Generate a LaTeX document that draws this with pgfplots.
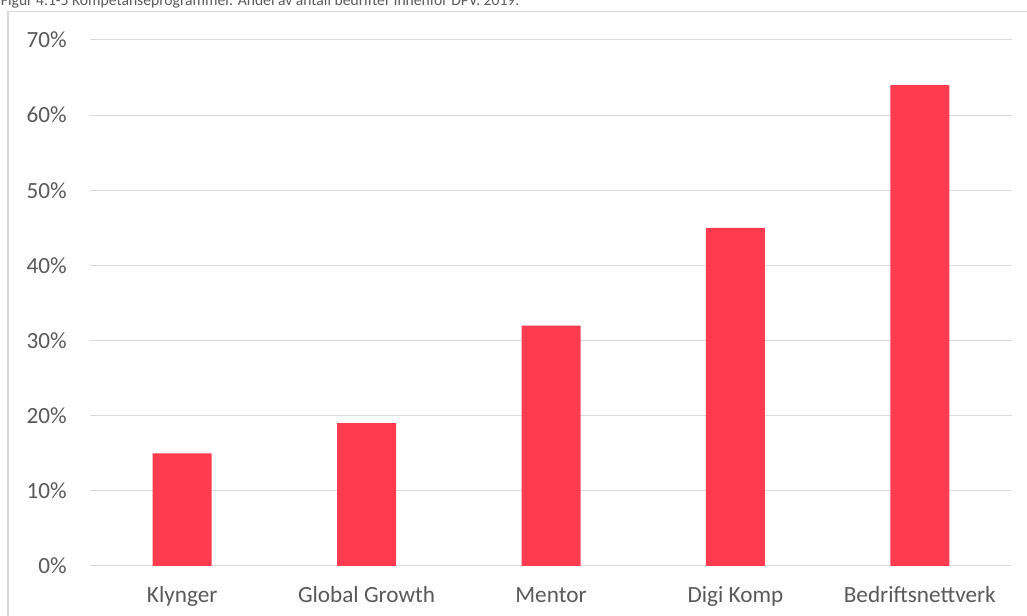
\documentclass[border=0pt]{standalone}
\usepackage{fontspec}
\setmainfont{Carlito}
\usepackage{pgfplots}
\pgfplotsset{compat=1.18}
\definecolor{barred}{RGB}{255,59,80}
\definecolor{gridgrey}{RGB}{217,217,217}
\definecolor{txtgrey}{RGB}{89,89,89}

\begin{document}
\begin{tikzpicture}
% chart frame (only top and left edges fall inside the picture)
\draw[gridgrey, line width=0.9pt] (6pt,-10pt) rectangle (790pt,453.5pt);
% title, partly cut off at the top edge as in the source
\node[anchor=base west, inner sep=0pt, text=txtgrey, font=\fontsize{11.7}{14}\selectfont]
  at (0.5pt,457.5pt) {Figur 4.1-5 Kompetanseprogrammer. Andel av antall bedrifter innenfor DPV. 2019.};
\begin{axis}[
  at={(67.5pt,37.5pt)}, anchor=south west,
  scale only axis, width=691.5pt, height=394.5pt,
  xmin=-0.5, xmax=4.5, ymin=0, ymax=70,
  ytick={0,10,...,70},
  yticklabel={\pgfmathprintnumber{\tick}\%},
  xtick={0,1,2,3,4},
  xticklabels={Klynger, Global Growth, Mentor, Digi Komp, Bedriftsnettverk},
  axis line style={draw=none},
  major tick length=0pt,
  ymajorgrids, grid style={gridgrey, line width=0.75pt},
  tick label style={text=txtgrey, font=\fontsize{17.4}{20}\selectfont, inner sep=0pt},
  /pgf/number format/assume math mode=true,
  yticklabel style={anchor=east, xshift=-17.25pt},
  xticklabel style={anchor=base, yshift=-27.75pt},
  clip=false,
]
\addplot[ybar, bar width=44.25pt, fill=barred, draw=none]
  coordinates {(0,15) (1,19) (2,32) (3,45) (4,64)};
\end{axis}
\pgfresetboundingbox
\useasboundingbox (0,0) rectangle (770.25pt,462pt);
\end{tikzpicture}
\end{document}
